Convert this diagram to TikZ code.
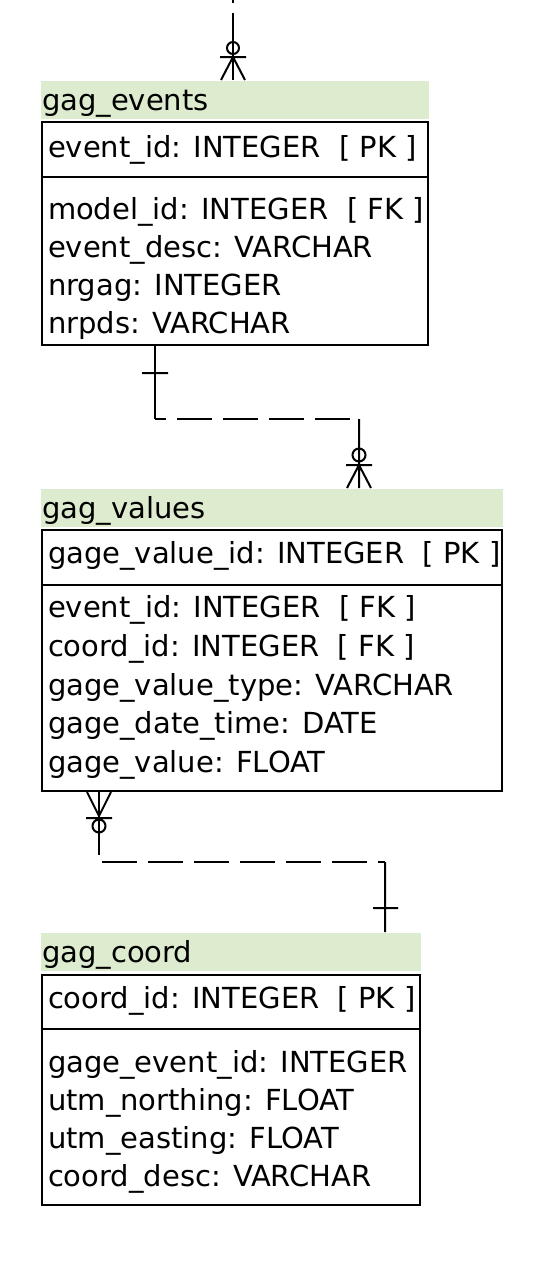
\documentclass[tikz,border=0pt]{standalone}
\usepackage{fontspec}
\setmainfont{DejaVu Sans}
\usetikzlibrary{calc}
\definecolor{headgreen}{RGB}{221,235,207}
\newcommand{\tablefont}{\fontsize{29}{35}\selectfont}

\begin{document}
\begin{tikzpicture}[x=1pt, y=-1pt, line width=2pt,
    head/.style={fill=headgreen, anchor=north west, inner xsep=1pt, inner ysep=0pt, minimum height=38pt,
                 text height=21pt, text depth=0pt, align=left, font=\tablefont},
    box/.style={draw, anchor=north west, inner sep=0pt},
    field/.style={anchor=base west, inner sep=0pt, font=\tablefont},
    dashline/.style={dash pattern=on 35pt off 11pt}]
    \useasboundingbox (0, 0) rectangle (550, 1274);

    % gag_events
    \node[head, text width=386pt] (events) at (40, 80) {gag\_events};
    \node[box, minimum width=386pt, minimum height=55pt] (events_pk) at (41, 121) {};
    \node[box, minimum width=386pt, minimum height=168pt] (events_at) at (41, 176) {};
    \node[field] (ev_k1) at (47, 157) {event\_id: INTEGER\ \ [ PK ]};
    \node[field] (ev_a1) at (47, 219) {model\_id: INTEGER\ \ [ FK ]};
    \node[field] (ev_a2) at (47, 257) {event\_desc: VARCHAR};
    \node[field] (ev_a3) at (47, 295) {nrgag: INTEGER};
    \node[field] (ev_a4) at (47, 333) {nrpds: VARCHAR};

    % gag_values
    \node[head, text width=460pt] (values) at (40, 488) {gag\_values};
    \node[box, minimum width=460pt, minimum height=55pt] (values_pk) at (41, 529) {};
    \node[box, minimum width=460pt, minimum height=206pt] (values_at) at (41, 584) {};
    \node[field] (va_k1) at (47, 563) {gage\_value\_id: INTEGER\ \ [ PK ]};
    \node[field] (va_a1) at (47, 617) {event\_id: INTEGER\ \ [ FK ]};
    \node[field] (va_a2) at (47, 656) {coord\_id: INTEGER\ \ [ FK ]};
    \node[field] (va_a3) at (47, 695) {gage\_value\_type: VARCHAR};
    \node[field] (va_a4) at (47, 733) {gage\_date\_time: DATE};
    \node[field] (va_a5) at (47, 772) {gage\_value: FLOAT};

    % gag_coord
    \node[head, text width=378pt] (coord) at (40, 932) {gag\_coord};
    \node[box, minimum width=378pt, minimum height=54pt] (coord_pk) at (41, 974) {};
    \node[box, minimum width=378pt, minimum height=176pt] (coord_at) at (41, 1028) {};
    \node[field] (co_k1) at (47, 1008) {coord\_id: INTEGER\ \ [ PK ]};
    \node[field] (co_a1) at (47, 1072) {gage\_event\_id: INTEGER};
    \node[field] (co_a2) at (47, 1110) {utm\_northing: FLOAT};
    \node[field] (co_a3) at (47, 1148) {utm\_easting: FLOAT};
    \node[field] (co_a4) at (47, 1186) {coord\_desc: VARCHAR};

    % relation coming in from above
    \coordinate (ev_src) at (233, 0);
    \coordinate (ev_in) at (ev_src |- events.north);
    \draw[dash pattern=on 3pt off 10pt on 100pt] (ev_src) -- (ev_in);
    \draw
    ($(ev_in)+(-12,0)$) -- ($(ev_in)+(0,-23)$) -- ($(ev_in)+(12,0)$)
    ($(ev_in)+(-13,-23)$) -- ++(26, 0)
    ($(ev_in)+(0,-32)$) circle (6);

    % gag_events 1 -- n gag_values
    \coordinate (ev_out) at ($(events_at.south west)+(114,0)$);
    \coordinate (va_in) at ($(values.north west)+(319,0)$);
    \draw (ev_out) -- ++(0, 73) coordinate (ev_bend);
    \draw[dashline, dash phase=24pt] (ev_bend) -- (ev_bend -| va_in);
    \draw
    (ev_bend -| va_in) -- (va_in)
    ($(ev_out)+(-13,27)$) -- ++(26, 0)
    ($(va_in)+(-12,0)$) -- ($(va_in)+(0,-23)$) -- ($(va_in)+(12,0)$)
    ($(va_in)+(-13,-23)$) -- ++(26, 0)
    ($(va_in)+(0,-33)$) circle (6.5);

    % gag_values n -- 1 gag_coord
    \coordinate (va_out) at ($(values_at.south west)+(58,0)$);
    \coordinate (co_in) at ($(coord.north west)+(345,0)$);
    \draw (va_out) -- ++(0, 63);
    \draw[dashline, dash phase=43pt] ($(va_out)+(0,70)$) coordinate (va_bend) -- (va_bend -| co_in);
    \draw
    (va_bend -| co_in) -- (co_in)
    ($(co_in)+(-12,-24)$) -- ++(25, 0)
    ($(va_out)+(-12,0)$) -- ($(va_out)+(0,24)$) -- ($(va_out)+(12,0)$)
    ($(va_out)+(-13,26)$) -- ++(26, 0)
    ($(va_out)+(0,34)$) circle (6.5);
\end{tikzpicture}
\end{document}
